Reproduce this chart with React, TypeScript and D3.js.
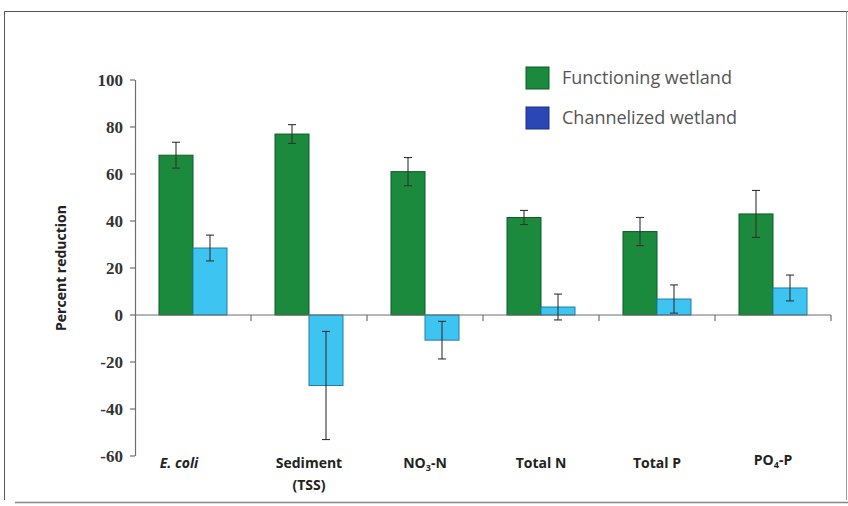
import React from "react";
import * as d3 from "d3";

const categories = ["E. coli", "Sediment", "NO3-N", "Total N", "Total P", "PO4-P"];
const functioningValues = [68, 77, 61, 41.5, 35.5, 43];
const functioningErrors = [5.5, 4, 6, 3, 6, 10];
const channelizedValues = [28.5, -30, -10.7, 3.4, 6.8, 11.5];
const channelizedErrors = [5.5, 23, 8, 5.5, 6, 5.5];
const yTicks = [100, 80, 60, 40, 20, 0, -20, -40, -60];
const seriesNames = ["Functioning wetland", "Channelized wetland"];

const W = 848;
const H = 506;
const left = 135;
const right = 831;
const top = 80;
const bottom = 456;

export default function App() {
  const x = d3.scaleBand<string>().domain(categories).range([left, right]).paddingInner(0).paddingOuter(0);
  const y = d3.scaleLinear().domain([-60, 100]).range([bottom, top]);
  const barW = 34;
  const green = "#1b8a3c";
  const greenStroke = "#0f5a25";
  const blue = "#3ec4f1";
  const blueStroke = "#1f7ea8";
  const axisColor = "#6f6f6f";
  const y0 = y(0);

  const series = [
    { vals: functioningValues, errs: functioningErrors, fill: green, stroke: greenStroke, off: -barW },
    { vals: channelizedValues, errs: channelizedErrors, fill: blue, stroke: blueStroke, off: 0 },
  ];

  const labelFont = "'Open Sans', 'DejaVu Sans', sans-serif";
  const tickFont = "'Liberation Serif', 'DejaVu Serif', serif";

  const renderLabel = (c: string, cx: number) => {
    const common = { x: cx, textAnchor: "middle" as const, fontFamily: labelFont, fontWeight: 700, fontSize: 14, fill: "#222" };
    if (c === "E. coli")
      return (
        <text key={c} {...common} x={cx - 14} y={468} fontStyle="italic">
          E. coli
        </text>
      );
    if (c === "Sediment")
      return (
        <g key={c}>
          <text {...common} y={468}>Sediment</text>
          <text {...common} y={490}>(TSS)</text>
        </g>
      );
    if (c === "NO3-N")
      return (
        <text key={c} {...common} y={468}>
          NO<tspan fontSize={9} dy={3}>3</tspan>
          <tspan dy={-3}>-N</tspan>
        </text>
      );
    if (c === "PO4-P")
      return (
        <text key={c} {...common} y={465}>
          PO<tspan fontSize={9} dy={3}>4</tspan>
          <tspan dy={-3}>-P</tspan>
        </text>
      );
    return (
      <text key={c} {...common} y={468}>
        {c}
      </text>
    );
  };

  return (
    <svg width={W} height={H} style={{ position: "absolute", left: 0, top: 0, background: "#fff" }}>
      <rect x={0} y={0} width={W} height={H} fill="#fff" />
      {/* frame */}
      <line x1={4.5} y1={11.5} x2={W} y2={11.5} stroke="#555" strokeWidth={1} />
      <line x1={4.5} y1={11.5} x2={4.5} y2={500} stroke="#555" strokeWidth={1} />
      <line x1={846.5} y1={11.5} x2={846.5} y2={500} stroke="#999" strokeWidth={1} />
      <line x1={15} y1={502.5} x2={W} y2={502.5} stroke="#888" strokeWidth={1.5} />

      {/* y axis */}
      <line x1={left + 0.5} y1={y(100)} x2={left + 0.5} y2={y(-60)} stroke={axisColor} strokeWidth={1.2} />
      {yTicks.map((t) => (
        <g key={t}>
          <line x1={left - 5} x2={left} y1={y(t)} y2={y(t)} stroke={axisColor} strokeWidth={1.2} />
          <text x={123} y={y(t) + 6} textAnchor="end" fontFamily={tickFont} fontWeight={700} fontSize={17} fill="#333">
            {t}
          </text>
        </g>
      ))}
      <text
        transform={`translate(66, ${y(20)}) rotate(-90)`}
        textAnchor="middle"
        fontFamily={labelFont}
        fontWeight={700}
        fontSize={14}
        fill="#222"
      >
        Percent reduction
      </text>

      {/* bars */}
      {series.map((s, si) =>
        categories.map((c, i) => {
          const cx = (x(c) as number) + x.bandwidth() / 2;
          const v = s.vals[i];
          const yv = y(v);
          const ytop = Math.min(yv, y0);
          const h = Math.abs(yv - y0);
          return (
            <rect
              key={`b${si}-${i}`}
              x={cx + s.off}
              y={ytop}
              width={barW}
              height={h}
              fill={s.fill}
              stroke={s.stroke}
              strokeWidth={1}
            />
          );
        })
      )}

      {/* x axis */}
      <line x1={left} x2={right} y1={y0} y2={y0} stroke={axisColor} strokeWidth={1.2} />
      {categories.map((c) => {
        const bx = (x(c) as number) + x.bandwidth();
        return <line key={`t${c}`} x1={bx} x2={bx} y1={y0} y2={y0 + 6} stroke={axisColor} strokeWidth={1.2} />;
      })}

      {/* error bars */}
      {series.map((s, si) =>
        categories.map((c, i) => {
          const cx = (x(c) as number) + x.bandwidth() / 2 + s.off + barW / 2;
          const v = s.vals[i];
          const e = s.errs[i];
          const y1 = y(v + e);
          const y2 = y(v - e);
          return (
            <g key={`e${si}-${i}`} stroke="#333" strokeWidth={1.1}>
              <line x1={cx} x2={cx} y1={y1} y2={y2} />
              <line x1={cx - 4} x2={cx + 4} y1={y1} y2={y1} />
              <line x1={cx - 4} x2={cx + 4} y1={y2} y2={y2} />
            </g>
          );
        })
      )}

      {/* x labels */}
      {categories.map((c) => renderLabel(c, (x(c) as number) + x.bandwidth() / 2))}

      {/* legend */}
      {seriesNames.map((n, i) => (
        <g key={n} transform={`translate(526, ${67 + i * 40})`}>
          <rect x={0} y={0} width={23} height={22} fill={i === 0 ? green : "#2b46b5"} stroke={i === 0 ? greenStroke : "#1b2f8a"} strokeWidth={1} />
          <text x={36} y={17} fontFamily={labelFont} fontSize={18} fill="#555">
            {n}
          </text>
        </g>
      ))}
    </svg>
  );
}
